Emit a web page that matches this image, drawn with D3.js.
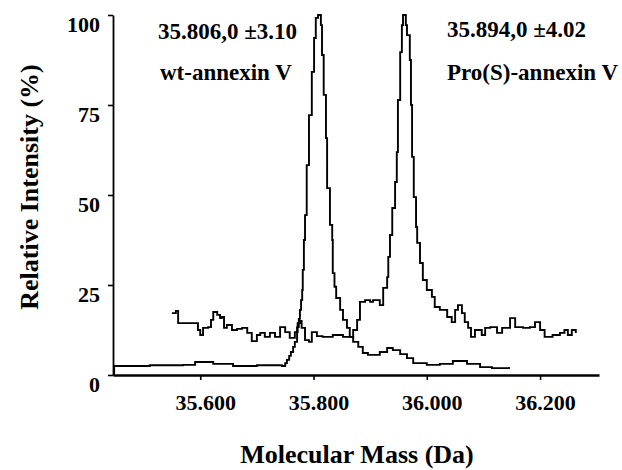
<!DOCTYPE html>
<html>
<head>
<meta charset="utf-8">
<script src="https://cdn.jsdelivr.net/npm/d3@7"></script>
<style>
  body { margin: 0; background: #fff; }
</style>
</head>
<body>
<script>
// tick values / labels
const massTicks = [35.6, 35.8, 36.0, 36.2];
const massTickLabels = ['35.600', '35.800', '36.000', '36.200'];
const intensityTicks = [0, 25, 50, 75, 100];

// wt-annexin V trace
const wtMass = [35.447, 35.448, 35.511, 35.570, 35.591, 35.623, 35.658, 35.700, 35.744, 35.750,
  35.753, 35.757, 35.760, 35.764, 35.767, 35.771, 35.774, 35.776, 35.778, 35.780,
  35.781, 35.783, 35.785, 35.788, 35.792, 35.797, 35.801, 35.804, 35.808, 35.813,
  35.815, 35.818, 35.822, 35.824, 35.829, 35.833, 35.834, 35.837, 35.840, 35.847,
  35.852, 35.859, 35.864, 35.870, 35.879, 35.887, 35.896, 35.917, 35.930, 35.940,
  35.953, 35.965, 35.976, 36.000, 36.023, 36.046, 36.071, 36.094, 36.115, 36.129, 36.145];
const wtIntensity = [0, 2.5, 2.7, 2.8, 3.6, 3.1, 2.5, 2.7, 2.5, 3.3,
  4.2, 5.3, 6.4, 7.8, 9.2, 13.3, 15.6, 18.1, 20.8, 23.6,
  29.2, 37.5, 44.4, 58.3, 72.2, 84.2, 93.6, 99.2, 100, 97.2,
  88.9, 77.8, 65.8, 51.9, 41.7, 37.5, 28.3, 24.5, 21.4, 18.1,
  15.3, 13.1, 10.6, 9.2, 7.8, 6.1, 5.6, 6.4, 7.5, 6.9,
  5.8, 4.7, 3.3, 2.8, 3.1, 3.9, 3.1, 2.2, 1.9, 1.9, 2.2];

// Pro(S)-annexin V trace
const proMass = [35.550, 35.557, 35.561, 35.596, 35.600, 35.605, 35.614, 35.619, 35.623, 35.630,
  35.635, 35.638, 35.642, 35.647, 35.656, 35.665, 35.674, 35.683, 35.691, 35.700,
  35.706, 35.714, 35.723, 35.732, 35.741, 35.750, 35.758, 35.767, 35.772, 35.776,
  35.779, 35.785, 35.792, 35.797, 35.806, 35.816, 35.834, 35.852, 35.870, 35.877,
  35.882, 35.891, 35.900, 35.905, 35.917, 35.923, 35.930, 35.932, 35.935, 35.939,
  35.944, 35.947, 35.949, 35.953, 35.956, 35.958, 35.963, 35.965, 35.970, 35.972,
  35.974, 35.977, 35.981, 35.983, 35.988, 35.993, 36.000, 36.009, 36.014, 36.023,
  36.036, 36.044, 36.050, 36.055, 36.062, 36.067, 36.073, 36.078, 36.085, 36.097,
  36.103, 36.112, 36.124, 36.133, 36.147, 36.156, 36.170, 36.182, 36.191, 36.200,
  36.208, 36.222, 36.235, 36.243, 36.249, 36.256, 36.263];
const proIntensity = [17.2, 17.8, 14.4, 12.5, 11.1, 13.1, 13.3, 15.3, 17.5, 16.7,
  15.8, 16.1, 13.1, 13.9, 12.5, 12.8, 13.1, 11.7, 9.4, 11.1,
  11.7, 10.6, 11.7, 10.6, 13.3, 11.9, 10.3, 11.9, 14.4, 15.0,
  13.1, 9.7, 9.2, 11.9, 10.8, 10.6, 11.1, 10.6, 12.5, 15.3,
  20.3, 20.8, 20.3, 20.8, 19.4, 24.2, 27.2, 32.8, 38.9, 46.4,
  53.6, 61.9, 76.4, 89.7, 97.2, 100, 97.2, 94.4, 87.5, 75,
  60.6, 49.4, 41.1, 36.7, 31.1, 26.4, 23.6, 21.7, 18.9, 18.1,
  16.1, 14.7, 18.1, 19.4, 17.2, 14.7, 13.1, 10.6, 12.5, 11.1,
  13.1, 13.3, 11.7, 13.1, 15.8, 13.3, 13.1, 13.3, 14.7, 12.5,
  10.6, 11.1, 11.7, 12.5, 11.1, 12.5, 11.7];

const font = "'Liberation Serif', 'Times New Roman', serif";

const svg = d3.select('body').append('svg')
    .attr('width', 622)
    .attr('height', 470)
    .style('background-color', '#fff');

const x = d3.scaleLinear().domain([35.446, 36.304]).range([113, 599]);
const y = d3.scaleLinear().domain([0, 100]).range([375, 15]);

// x axis
const gx = svg.append('g')
    .attr('transform', 'translate(0,375)')
    .call(d3.axisBottom(x)
      .tickValues(massTicks)
      .tickFormat((d, i) => massTickLabels[i])
      .tickSize(5)
      .tickSizeOuter(0)
      .tickPadding(14));
gx.select('.domain').attr('stroke-width', 2.4);
gx.selectAll('.tick line').attr('stroke-width', 1.6);
gx.selectAll('text')
    .attr('x', 5)
    .attr('font-family', font)
    .attr('font-weight', 'bold')
    .attr('font-size', 22)
    .attr('fill', '#000');

// y axis
const gy = svg.append('g')
    .attr('transform', 'translate(113,0)')
    .call(d3.axisLeft(y)
      .tickValues(intensityTicks)
      .tickSize(5)
      .tickSizeOuter(0)
      .tickPadding(8));
gy.select('.domain').attr('stroke-width', 1.8);
gy.selectAll('.tick line').attr('stroke-width', 1.6);
gy.selectAll('text')
    .attr('dy', '0.75em')
    .attr('font-family', font)
    .attr('font-weight', 'bold')
    .attr('font-size', 22)
    .attr('fill', '#000');

// traces
const line = d3.line()
    .x(d => x(d[0]))
    .y(d => y(d[1]))
    .curve(d3.curveStepAfter);

svg.append('path')
    .datum(d3.zip(wtMass, wtIntensity))
    .attr('d', line)
    .attr('fill', 'none')
    .attr('stroke', '#000')
    .attr('stroke-width', 1.9);

svg.append('path')
    .datum(d3.zip(proMass, proIntensity))
    .attr('d', line)
    .attr('fill', 'none')
    .attr('stroke', '#000')
    .attr('stroke-width', 1.9);

// annotations
const notes = [
  { text: '35.806,0 \u00b13.10', x: 158, y: 39 },
  { text: 'wt-annexin V', x: 160, y: 80 },
  { text: '35.894,0 \u00b14.02', x: 447, y: 37 },
  { text: 'Pro(S)-annexin V', x: 447, y: 80 }
];
svg.selectAll('text.note')
    .data(notes)
    .enter()
  .append('text')
    .attr('class', 'note')
    .attr('x', d => d.x)
    .attr('y', d => d.y)
    .attr('font-family', font)
    .attr('font-weight', 'bold')
    .attr('font-size', 23)
    .text(d => d.text);

// axis titles
svg.append('text')
    .attr('transform', 'translate(38,187) rotate(-90)')
    .attr('text-anchor', 'middle')
    .attr('font-family', font)
    .attr('font-weight', 'bold')
    .attr('font-size', 26)
    .text('Relative Intensity (%)');

svg.append('text')
    .attr('x', 357)
    .attr('y', 463)
    .attr('text-anchor', 'middle')
    .attr('font-family', font)
    .attr('font-weight', 'bold')
    .attr('font-size', 26)
    .text('Molecular Mass (Da)');
</script>
</body>
</html>
